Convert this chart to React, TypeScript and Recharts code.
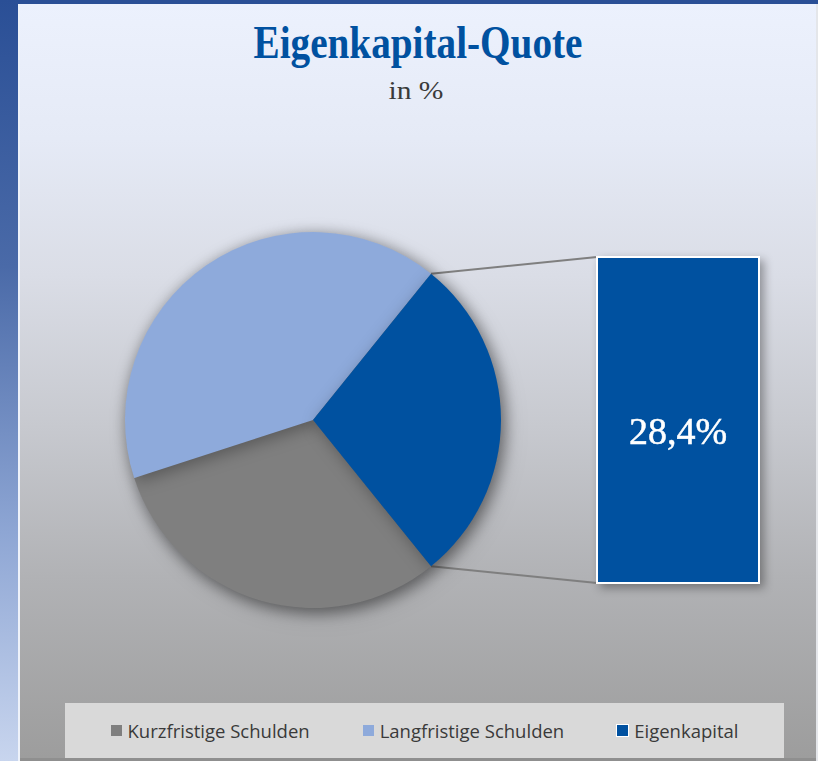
import { PieChart, Pie, Cell, Legend, BarChart, Bar, XAxis, YAxis, LabelList } from 'recharts';

// --- data ---
const categories = ['Kurzfristige Schulden', 'Langfristige Schulden', 'Eigenkapital'];
const shares = [30.8, 40.8, 28.4];
const colors = ['#7f7f7f', '#8eaadb', '#0051a0'];

const TITLE = 'Eigenkapital-Quote';
const SUBTITLE = 'in %';

const pieData = categories.map((name, i) => ({ name, value: shares[i] }));
const eigenIdx = 2;
const barData = [{ name: categories[eigenIdx], value: shares[eigenIdx] }];

// pie geometry
const CX = 313;
const CY = 420;
const R = 188;
// the Eigenkapital slice is centred on 3 o'clock, drawn clockwise
const HALF = (shares[eigenIdx] / 100) * 180;
const START = -HALF;
const END = START - 360;

// box for the broken-out slice
const BOX = { left: 596, top: 256, width: 164, height: 328 };

const SERIF = '"Liberation Serif", "Times New Roman", serif';

const fmt = (v: number) => `${v.toFixed(1).replace('.', ',')}%`;

function renderLegend(props: any) {
    const items = [...(props.payload || [])].sort(
        (a: any, b: any) => categories.indexOf(a.value) - categories.indexOf(b.value),
    );
    return (
        <div style={{
            display: 'flex', justifyContent: 'center', alignItems: 'center', gap: 53,
            height: '100%', fontFamily: '"Open Sans", sans-serif', fontSize: 18.5, color: '#3a3a3a',
        }}>
            {items.map((it: any) => {
                const i = categories.indexOf(it.value);
                return (
                    <div key={it.value} style={{ display: 'flex', alignItems: 'center' }}>
                        <span style={{
                            display: 'inline-block', width: 11, height: 11, marginRight: 6,
                            background: colors[i],
                            boxShadow: i === eigenIdx ? '0 0 0 1px #fff' : 'none',
                        }} />
                        <span>{it.value}</span>
                    </div>
                );
            })}
        </div>
    );
}

function BoxLabel(props: any) {
    const { x, y, width, height, value } = props;
    return (
        <text
            x={x + width / 2}
            y={y + height / 2 + 24}
            textAnchor="middle"
            fill="#ffffff"
            stroke="#ffffff"
            strokeWidth={0.5}
            style={{ fontFamily: SERIF, fontSize: 38, fontWeight: 'normal' }}
        >
            {fmt(value)}
        </text>
    );
}

export default function App() {
    const rad = (HALF * Math.PI) / 180;
    const topPt = { x: CX + R * Math.cos(rad), y: CY - R * Math.sin(rad) };
    const botPt = { x: CX + R * Math.cos(rad), y: CY + R * Math.sin(rad) };

    return (
        <div style={{ position: 'fixed', left: 0, top: 0, width: 818, height: 761, overflow: 'hidden', background: '#8f8f8f' }}>
            <style>{`.pie-shadow { filter: drop-shadow(3px 4px 8px rgba(0,0,0,0.3)); }`}</style>
            {/* left strip */}
            <div style={{
                position: 'absolute', left: 0, top: 0, width: 18, height: 761,
                background: 'linear-gradient(to bottom, #2a4f96 0%, #4a6aa8 35%, #8ea6d4 70%, #c8d5ee 100%)',
            }} />
            <div style={{ position: 'absolute', left: 18, top: 0, width: 2, height: 761, background: '#eef2fa' }} />
            {/* top band */}
            <div style={{ position: 'absolute', left: 18, top: 0, width: 800, height: 4, background: '#2a4f96' }} />
            {/* panel */}
            <div style={{
                position: 'absolute', left: 20, top: 4, width: 796, height: 754,
                background: 'linear-gradient(to bottom, #ecf1fd 0%, #e5eaf6 18%, #dadde6 36%, #c7c9cf 56%, #b1b2b5 76%, #9d9d9d 100%)',
            }} />
            <div style={{ position: 'absolute', left: 816, top: 4, width: 2, height: 757, background: '#e4e6ea' }} />

            {/* title */}
            <svg width={818} height={130} style={{ position: 'absolute', left: 0, top: 0 }}>
                <text x={418} y={58} textAnchor="middle" fill="#0051a0"
                    style={{ fontFamily: SERIF, fontWeight: 'bold', fontSize: 46 }}
                    textLength={329} lengthAdjust="spacingAndGlyphs">{TITLE}</text>
                <text x={416} y={99} textAnchor="middle" fill="#3a3a3a"
                    style={{ fontFamily: SERIF, fontSize: 26 }}
                    textLength={55} lengthAdjust="spacingAndGlyphs">{SUBTITLE}</text>
            </svg>

            {/* connector lines */}
            <svg width={818} height={761} style={{ position: 'absolute', left: 0, top: 0 }}>
                <line x1={topPt.x} y1={topPt.y} x2={BOX.left + 1} y2={BOX.top + 1} stroke="#7f7f7f" strokeWidth={2} />
                <line x1={botPt.x} y1={botPt.y} x2={BOX.left + 1} y2={BOX.top + BOX.height - 1} stroke="#7f7f7f" strokeWidth={2} />
            </svg>

            <div style={{ position: 'absolute', left: 0, top: 0 }}>
                <PieChart width={818} height={761} margin={{ top: 0, right: 0, bottom: 0, left: 0 }}>
                    <Pie
                        data={pieData}
                        dataKey="value"
                        nameKey="name"
                        cx={CX}
                        cy={CY}
                        outerRadius={R}
                        startAngle={START}
                        endAngle={END}
                        stroke="none"
                        className="pie-shadow"
                        isAnimationActive={false}
                        legendType="square"
                    >
                        {pieData.map((d, i) => (
                            <Cell key={d.name} fill={colors[i]} />
                        ))}
                    </Pie>
                    <Legend
                        content={renderLegend}
                        wrapperStyle={{ position: 'absolute', left: 65, top: 703, width: 719, height: 55, background: '#d9d9d9' }}
                    />
                </PieChart>
            </div>

            {/* broken-out Eigenkapital column */}
            <div style={{ position: 'absolute', left: BOX.left, top: BOX.top, filter: 'drop-shadow(4px 4px 5px rgba(0,0,0,0.35))' }}>
                <BarChart width={BOX.width} height={BOX.height} data={barData}
                    margin={{ top: 1, right: 1, bottom: 1, left: 1 }} barCategoryGap={0}>
                    <XAxis dataKey="name" hide />
                    <YAxis hide domain={[0, shares[eigenIdx]]} />
                    <Bar dataKey="value" fill={colors[eigenIdx]} stroke="#ffffff" strokeWidth={2} isAnimationActive={false}>
                        <LabelList dataKey="value" content={BoxLabel} />
                    </Bar>
                </BarChart>
            </div>
        </div>
    );
}
